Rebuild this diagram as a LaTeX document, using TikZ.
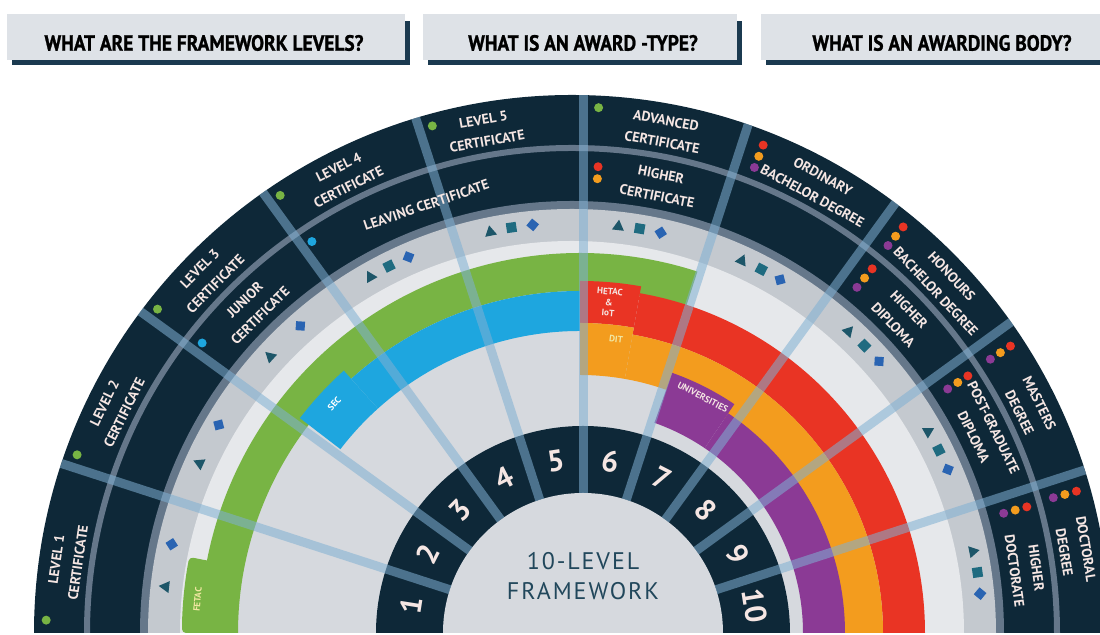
\documentclass[tikz,border=0pt]{standalone}
\usepackage{fontspec}
\setmainfont{PT Sans}
\newfontfamily\centrefont[LetterSpace=8]{PT Sans}
\newfontfamily\headfont[FakeStretch=0.88, FakeBold=1]{PT Sans}
\tikzset{>=latex}
\definecolor{frame navy}{HTML}{0E2838}
\definecolor{head navy}{HTML}{1B3A50}
\definecolor{head grey}{HTML}{DEE2E7}
\definecolor{ring line}{HTML}{65778A}
\definecolor{symbol grey}{HTML}{C4C9CF}
\definecolor{pale grey}{HTML}{E6E8EB}
\definecolor{base grey}{HTML}{D6D9DE}
\definecolor{fetac green}{HTML}{78B444}
\definecolor{sec blue}{HTML}{1EA6DF}
\definecolor{hetac red}{HTML}{E93424}
\definecolor{dit orange}{HTML}{F39C1E}
\definecolor{uni purple}{HTML}{8B3A95}
\definecolor{spoke blue}{HTML}{7FB0D3}
\definecolor{label pink}{HTML}{F5E6E3}
\definecolor{tri teal}{HTML}{1D5669}
\definecolor{square teal}{HTML}{1F6B80}
\definecolor{diamond blue}{HTML}{2A64B2}
\definecolor{centre teal}{HTML}{21475B}
\definecolor{tab yellow}{HTML}{F1E7A2}
\tikzset{
  ringlabel/.style={text=label pink, font=\fontsize{7}{11}\selectfont\bfseries, align=center, inner sep=0pt},
  numlabel/.style={text=label pink, font=\fontsize{15}{15}\selectfont\bfseries, inner sep=0pt},
  tablabel/.style={font=\fontsize{4.6}{5.4}\selectfont\bfseries, align=center, inner sep=0pt},
}
\newcommand{\awardband}[5]{\fill[#1] (#2:#4) arc[start angle=#2, end angle=#3, radius=#4] -- (#3:#5) arc[start angle=#3, end angle=#2, radius=#5] -- cycle;}

\begin{document}
\begin{tikzpicture}[x=0.5pt, y=0.5pt]
    \useasboundingbox (0,0) rectangle (1100,635);
    % question boxes
    \foreach \xa/\xb/\xt/\txt [count=\i] in {7/405/204/{WHAT ARE THE FRAMEWORK LEVELS?}, 423/737/583/{WHAT IS AN AWARD -TYPE?}, 761/1110/942/{WHAT IS AN AWARDING BODY?}} {
        \fill[head navy] (\xa+5,570) rectangle (\xb+5,614);
        \fill[head grey] (\xa,575) rectangle (\xb,621);
        \node[font=\fontsize{11}{11}\selectfont\headfont\bfseries, inner sep=0pt] (head\i) at (\xt,592) {\txt};
    }
    % outer rings
    \begin{scope}[shift={(572,2)}]
        \foreach \r/\c in {538/frame navy, 432/ring line, 424/symbol grey, 392/pale grey, 336/base grey}
            \fill[\c] (0:\r) arc[start angle=0, end angle=180, radius=\r] -- cycle;
        \draw[ring line, line width=3pt] (0:485) arc[start angle=0, end angle=180, radius=485];
    \end{scope}
    % award bands
    \begin{scope}[shift={(580,2)}]
        \awardband{fetac green}{72}{180}{342}{380}
        \awardband{fetac green, rounded corners=2pt}{169}{180}{370}{398}
        \awardband{sec blue}{90}{132}{302}{342}
        \awardband{sec blue}{132}{142.5}{302}{353}
        \awardband{hetac red}{0}{80}{303}{345}
        \awardband{hetac red}{80}{90}{310}{352}
        \awardband{dit orange}{0}{80}{258}{303}
        \awardband{dit orange}{80}{90}{258}{310}
        \awardband{uni purple}{0}{56}{223}{265}
        \awardband{uni purple}{56}{70.5}{223}{276}
        \node[tablabel, text=tab yellow, rotate=85] (fetac) at (175:384) {FETAC};
        \node[tablabel, text=white, rotate=47] (sec) at (137:336) {SEC};
        \node[tablabel, text=label pink, rotate=-5] (hetac) at (85:332) {HETAC\\\&\\IoT};
        \node[tablabel, text=tab yellow, rotate=-7] (dit) at (83:296) {DIT};
        \node[tablabel, text=label pink, rotate=-27.5] (uni) at (62.5:266) {UNIVERSITIES};
    \end{scope}
    \begin{scope}[shift={(572,2)}]
        % award-type symbols
        \foreach \k in {1,...,10} {
            \pgfmathsetmacro\hi{198-18*\k}
            \fill[tri teal, shift={(\hi-6.5:410)}, rotate=\hi-96.5] (0,6) -- (-6,-4.5) -- (6,-4.5) -- cycle;
            \ifnum\k>3
                \fill[square teal, shift={(\hi-9.5:410)}, rotate=\hi-99.5] (-5,-5) -- (5,-5) -- (5,5) -- (-5,5) -- cycle;
            \fi
            \fill[diamond blue, shift={(\hi-12.5:410)}, rotate=\hi-57.5] (-4.5,-4.5) -- (4.5,-4.5) -- (4.5,4.5) -- (-4.5,4.5) -- cycle;
        }
        % awarding-body dots
        \foreach \a in {178.6, 160.2, 142.0, 123.7, 105.4, 87.1}
            \fill[fetac green] (\a:526) circle[radius=4.5];
        \foreach \a in {68.6, 50.8, 33.2, 15.7}
            \foreach \r/\c in {524/hetac red, 512/dit orange, 500/uni purple}
                \fill[\c] (\a:\r) circle[radius=4.5];
        \foreach \a in {141.9, 123.6}
            \fill[sec blue] (\a:470) circle[radius=4.5];
        \foreach \r/\c in {467/hetac red, 455/dit orange}
            \fill[\c] (86.8:\r) circle[radius=4.5];
        \foreach \a in {50.5, 33.0, 15.5}
            \foreach \r/\c in {472/hetac red, 460/dit orange, 448/uni purple}
                \fill[\c] (\a:\r) circle[radius=4.5];
    \end{scope}
    \begin{scope}[shift={(583,2)}]
        % number ring and centre
        \fill[frame navy] (0:207) arc[start angle=0, end angle=180, radius=207] -- cycle;
        \fill[base grey] (0:140) arc[start angle=0, end angle=180, radius=140] -- cycle;
        % spokes
        \foreach \a in {18, 36, ..., 162}
            \draw[spoke blue, opacity=0.55, line width=4.5pt] (\a:140) -- (\a:{538-11*cos(\a)});
        % level numbers
        \foreach \k in {1,...,10}
            \node[numlabel, rotate=99-18*\k] (level\k) at (189-18*\k:174) {\k};
        \node[text=centre teal, font=\fontsize{12}{12}\selectfont\centrefont, inner sep=0pt] (title top) at (0,72) {10-LEVEL};
        \node[text=centre teal, font=\fontsize{12}{12}\selectfont\centrefont, inner sep=0pt] (title bottom) at (0,42) {FRAMEWORK};
    \end{scope}
    \begin{scope}[shift={(572,2)}]
        % award names
        \foreach \a/\txt [count=\k] in {171.9/{LEVEL 1\\CERTIFICATE}, 153.8/{LEVEL 2\\CERTIFICATE}, 135.6/{LEVEL 3\\CERTIFICATE}, 116.6/{LEVEL 4\\CERTIFICATE}, 99.8/{LEVEL 5\\CERTIFICATE}, 79.6/{ADVANCED\\CERTIFICATE}, 61.2/{ORDINARY\\BACHELOR DEGREE}, 43.2/{HONOURS\\BACHELOR DEGREE}, 26.2/{MASTERS\\DEGREE}, 9.3/{DOCTORAL\\DEGREE}}
            \node[ringlabel, rotate=\a-90] (award\k) at (\a:510) {\txt};
        \node[ringlabel, rotate=44.5] (junior) at (134.5:456) {JUNIOR\\CERTIFICATE};
        \node[ringlabel, rotate=18.8] (leaving) at (108.8:452) {LEAVING CERTIFICATE};
        \node[ringlabel, rotate=-11] (higher cert) at (79:456) {HIGHER\\CERTIFICATE};
        \node[ringlabel, rotate=-46.2] (higher dip) at (43.8:456) {HIGHER\\DIPLOMA};
        \node[ringlabel, rotate=-64] (postgrad) at (26:458) {POST-GRADUATE\\DIPLOMA};
        \node[ringlabel, rotate=-82] (higher doc) at (8:458) {HIGHER\\DOCTORATE};
    \end{scope}
\end{tikzpicture}
\end{document}
